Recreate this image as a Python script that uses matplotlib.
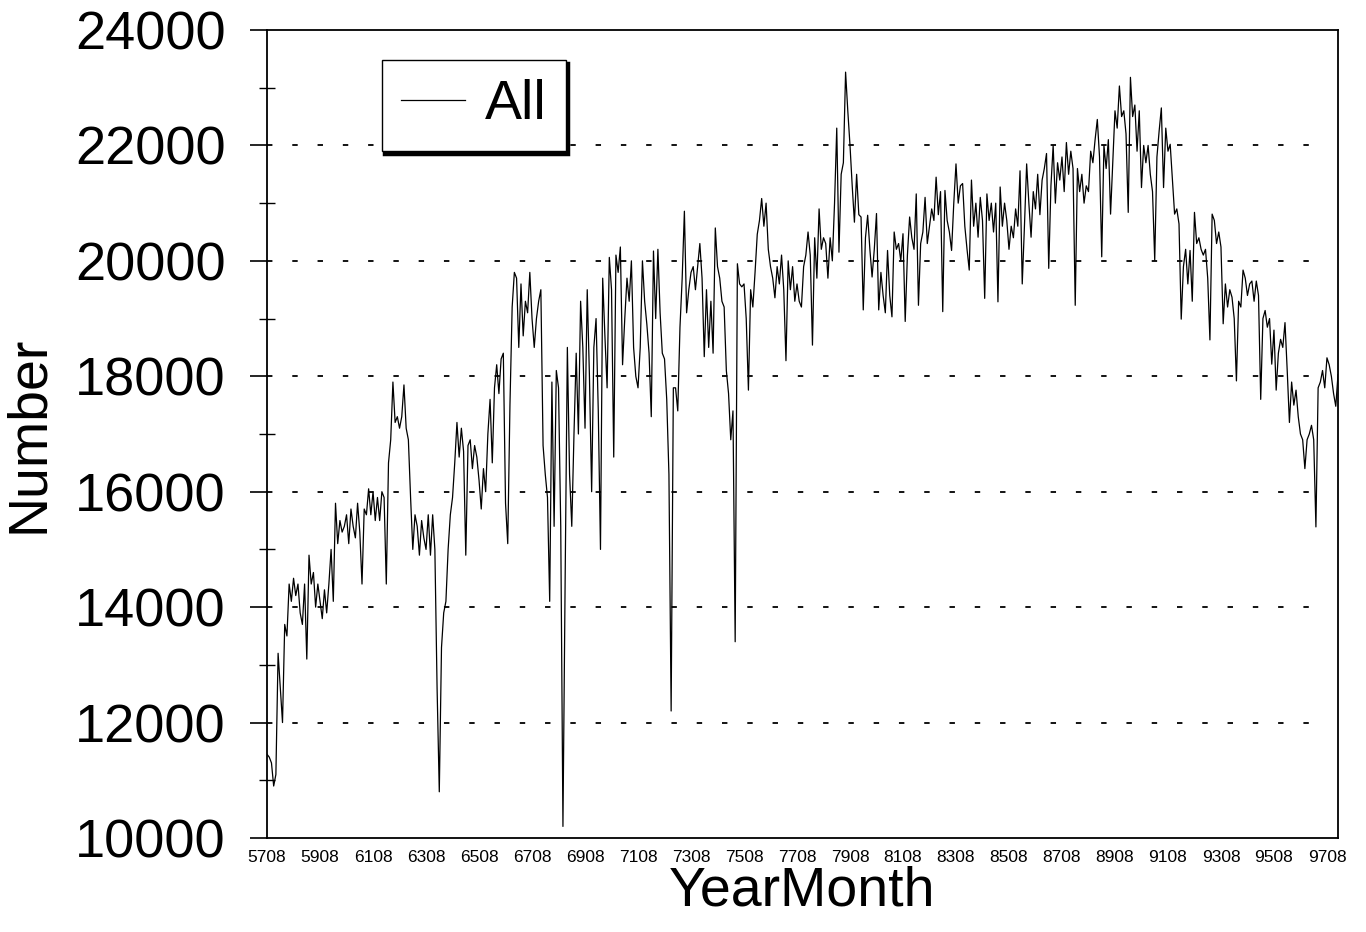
import numpy as np
import matplotlib
matplotlib.use('Agg')
import matplotlib.pyplot as plt
from matplotlib.ticker import MultipleLocator

plt.rcParams['font.family'] = ['Liberation Sans', 'DejaVu Sans']

# monthly counts, starting 5708 (12 values per row)
counts_57_67 = [
    11450, 11400, 11300, 10900, 11100, 13200, 12600, 12000, 13700, 13500, 14400, 14100,
    14500, 14200, 14400, 13900, 13700, 14400, 13100, 14900, 14400, 14600, 14000, 14400,
    14100, 13800, 14300, 13900, 14400, 15000, 14100, 15800, 15100, 15500, 15300, 15400,
    15600, 15100, 15700, 15400, 15200, 15800, 15300, 14400, 15700, 15600, 16050, 15600,
    16000, 15500, 15900, 15500, 16000, 15900, 14400, 16500, 16900, 17900, 17200, 17300,
    17100, 17300, 17850, 17100, 16900, 15900, 15000, 15600, 15400, 14900, 15500, 15200,
    15000, 15600, 14900, 15600, 15000, 12600, 10800, 13300, 13900, 14100, 15000, 15600,
    15900, 16500, 17200, 16600, 17100, 16700, 14900, 16800, 16900, 16400, 16800, 16600,
    16200, 15700, 16400, 16000, 17000, 17600, 16500, 17800, 18200, 17700, 18300, 18400,
    15800, 15100, 17500, 19200, 19800, 19700, 18500, 19600, 18700, 19300, 19100, 19800,
]
counts_67_77 = [
    19000, 18500, 19000, 19300, 19500, 16800, 16300, 15900, 14100, 17900, 15400, 18100,
    17800, 15400, 10200, 14500, 18500, 16300, 15400, 17000, 18400, 17000, 19300, 18500,
    17100, 19500, 18000, 16000, 18500, 19000, 17400, 15000, 19700, 18700, 17800, 20060,
    19500, 16600, 20100, 19800, 20240, 18200, 19000, 19700, 19300, 20000, 18500, 18000,
    17800, 18500, 20000, 19300, 18900, 18400, 17300, 20170, 19000, 20200, 19100, 18400,
    18300, 17600, 16300, 12200, 17800, 17800, 17400, 18850, 19700, 20860, 19100, 19500,
    19800, 19900, 19500, 19900, 20300, 19700, 18340, 19500, 18500, 19300, 18400, 20570,
    19900, 19700, 19300, 19200, 18100, 17700, 16900, 17400, 13400, 19950, 19600, 19550,
    19600, 19000, 17760, 19500, 19200, 19800, 20460, 20700, 21080, 20600, 21000, 20200,
    19900, 19700, 19360, 19900, 19600, 20100, 19500, 18270, 20000, 19500, 19900, 19300,
]
counts_77_87 = [
    19600, 19300, 19200, 19900, 20100, 20500, 20100, 18540, 20400, 19700, 20900, 20200,
    20400, 20300, 19700, 20400, 20000, 21000, 22300, 20150, 21500, 21700, 23270, 22600,
    22000, 21300, 20670, 21500, 20800, 20760, 19150, 20400, 20790, 20200, 19720, 20200,
    20820, 19150, 19800, 19400, 19100, 20180, 19400, 19030, 20500, 20200, 20300, 20000,
    20470, 18950, 20100, 20760, 20400, 20200, 21160, 19230, 20300, 20500, 21100, 20300,
    20600, 20900, 20700, 21450, 20800, 21200, 19120, 21220, 20700, 20500, 20180, 21000,
    21680, 21000, 21300, 21340, 20600, 20200, 19840, 21400, 20600, 21000, 20410, 21100,
    20700, 19350, 21160, 20700, 21000, 20500, 21000, 19290, 21280, 20600, 21000, 20700,
    20200, 20600, 20400, 20900, 20600, 21560, 19600, 20600, 21680, 21000, 20410, 21200,
    20900, 21500, 20800, 21400, 21600, 21860, 19870, 21300, 22000, 21000, 21700, 21400,
]
counts_87_97 = [
    21800, 21200, 22050, 21500, 21900, 21600, 19230, 21600, 21200, 21500, 21000, 21300,
    21200, 21900, 21700, 22100, 22450, 21800, 20070, 22000, 21600, 22100, 20810, 21700,
    22600, 22300, 23030, 22500, 22600, 22200, 20840, 23180, 22500, 22700, 21900, 22600,
    21270, 22000, 21700, 22000, 21500, 21200, 20010, 21800, 22250, 22650, 21270, 22300,
    21900, 22020, 21400, 20810, 20900, 20640, 18990, 19900, 20200, 19600, 20180, 19300,
    20840, 20300, 20400, 20200, 20100, 20200, 19700, 18630, 20810, 20700, 20300, 20500,
    20240, 18910, 19600, 19200, 19500, 19370, 19000, 17920, 19300, 19200, 19840, 19700,
    19400, 19600, 19650, 19300, 19650, 19400, 17600, 19000, 19140, 18850, 19000, 18210,
    18800, 17760, 18400, 18640, 18500, 18930, 18100, 17200, 17900, 17500, 17760, 17300,
    17000, 16900, 16400, 16900, 17000, 17150, 16900, 15390, 17800, 17900, 18100, 17800,
    18320, 18200, 18000, 17700, 17480, 18030,
]

tick_labels = ['5708', '5908', '6108', '6308', '6508', '6708', '6908', '7108',
               '7308', '7508', '7708', '7908', '8108', '8308', '8508', '8708',
               '8908', '9108', '9308', '9508', '9708']

counts = np.array(counts_57_67 + counts_67_77 + counts_77_87 + counts_87_97)
months = np.arange(len(counts))

fig = plt.figure(figsize=(13.66, 9.32), dpi=100)
ax = fig.add_axes([0.1955, 0.1009, 0.784, 0.8669])

ax.plot(months, counts, color='black', lw=0.9, label='All')

ax.set_xlim(0, len(counts) - 1)
ax.set_ylim(10000, 24000)
ax.set_xticks(np.arange(len(tick_labels)) * 24)
ax.set_xticklabels(tick_labels)
ax.set_yticks(np.arange(10000, 24001, 2000))
ax.yaxis.set_minor_locator(MultipleLocator(1000))

ax.tick_params(axis='x', length=0, labelsize=12.5, pad=9)
ax.tick_params(axis='y', which='major', direction='out', length=12, width=1.2,
               labelsize=39, pad=18)
ax.tick_params(axis='y', which='minor', direction='inout', length=11, width=1.0)

for s in ax.spines.values():
    s.set_linewidth(1.3)

# dotted guide lines, stopping a little short of the right frame
for v in np.arange(12000, 22001, 2000):
    ax.axhline(v, xmin=0.0, xmax=0.985, color='black', linestyle=(0, (3, 11)), lw=1.3)

ax.set_xlabel('YearMonth', fontsize=40, labelpad=0)
ax.set_ylabel('Number', fontsize=40, labelpad=14)

ax.legend(loc='upper left', bbox_to_anchor=(0.107, 0.963), borderaxespad=0,
          fontsize=40, fancybox=False, edgecolor='black', framealpha=1,
          shadow={'color': 'black', 'alpha': 1, 'linewidth': 2.5},
          handlelength=1.15, handletextpad=0.35, borderpad=0.35)

fig.savefig('out.png', dpi=100)
